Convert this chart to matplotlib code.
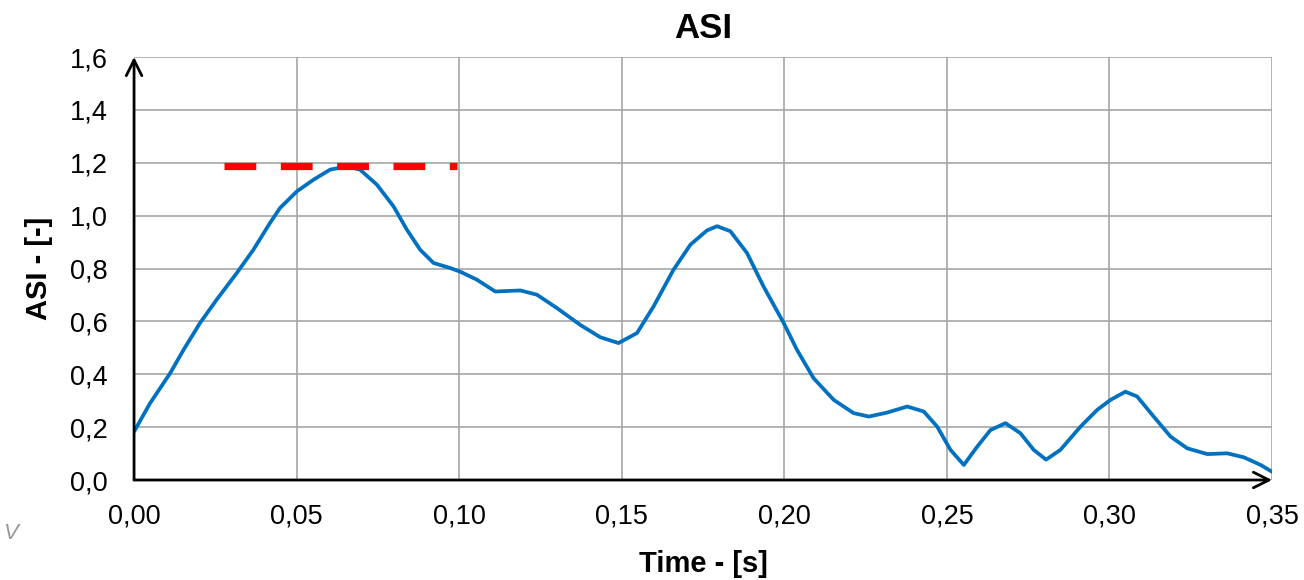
import matplotlib
matplotlib.use("Agg")
import matplotlib.pyplot as plt
from matplotlib.ticker import FixedLocator

plt.rcParams['font.family'] = ['Liberation Sans', 'DejaVu Sans']

# ASI curve
time_s = [0.000, 0.0049, 0.0111, 0.0152, 0.0203, 0.0254, 0.0316, 0.0367, 0.0418, 0.0449,
          0.0501, 0.0552, 0.0603, 0.0654, 0.0695, 0.0747, 0.0798, 0.0839, 0.088, 0.0921,
          0.0972, 0.1003, 0.1054, 0.1111, 0.1188, 0.1239, 0.1301, 0.1372, 0.1434, 0.149,
          0.1547, 0.1598, 0.1659, 0.1711, 0.1762, 0.1793, 0.1834, 0.1885, 0.1936, 0.1998,
          0.2039, 0.209, 0.2152, 0.2213, 0.226, 0.2316, 0.2378, 0.2429, 0.247, 0.2511,
          0.2552, 0.2593, 0.2634, 0.268, 0.2726, 0.2767, 0.2805, 0.2849, 0.2911, 0.2962,
          0.3003, 0.3049, 0.3085, 0.3136, 0.3188, 0.3239, 0.3301, 0.3362, 0.3413, 0.3465,
          0.350]
asi = [0.183, 0.29, 0.404, 0.492, 0.594, 0.682, 0.783, 0.871, 0.972, 1.029,
       1.092, 1.136, 1.174, 1.186, 1.174, 1.117, 1.035, 0.947, 0.871, 0.821,
       0.802, 0.788, 0.758, 0.713, 0.717, 0.701, 0.650, 0.587, 0.540, 0.518,
       0.556, 0.657, 0.795, 0.890, 0.944, 0.960, 0.941, 0.859, 0.732, 0.594,
       0.492, 0.385, 0.303, 0.253, 0.240, 0.255, 0.278, 0.259, 0.202, 0.114,
       0.057, 0.126, 0.189, 0.215, 0.177, 0.114, 0.077, 0.114, 0.202, 0.265,
       0.303, 0.334, 0.316, 0.240, 0.164, 0.120, 0.098, 0.101, 0.086, 0.057,
       0.031]

# peak marker (red dashed)
peak_t = [0.0277, 0.0994]
peak_asi = [1.186, 1.186]

x_ticks = [0.00, 0.05, 0.10, 0.15, 0.20, 0.25, 0.30, 0.35]
y_ticks = [0.0, 0.2, 0.4, 0.6, 0.8, 1.0, 1.2, 1.4, 1.6]

fig = plt.figure(figsize=(13.04, 5.8), dpi=100)
ax = fig.add_axes([0.1028, 0.1724, 0.8727, 0.7293])

ax.plot(time_s, asi, color='#0070C0', lw=2.7, solid_joinstyle='round',
        solid_capstyle='round', zorder=3)
ax.plot(peak_t, peak_asi, color='#FF0000', lw=5.2, dashes=(4.4, 3.4),
        dash_capstyle='butt', zorder=4)

ax.set_xlim(0, 0.35)
ax.set_ylim(0, 1.6)
ax.xaxis.set_major_locator(FixedLocator(x_ticks))
ax.yaxis.set_major_locator(FixedLocator(y_ticks))
ax.set_xticklabels([f"{v:.2f}".replace('.', ',') for v in x_ticks])
ax.set_yticklabels([f"{v:.1f}".replace('.', ',') for v in y_ticks])
ax.tick_params(length=0, labelsize=19.5, colors='black')
ax.tick_params(axis='x', pad=17)
ax.tick_params(axis='y', pad=19)

ax.grid(True, color='#A6A6A6', lw=1.2)
ax.set_axisbelow(True)
for s in ['top', 'right', 'left', 'bottom']:
    ax.spines[s].set_visible(False)

# axes with arrow heads
ax.annotate('', xy=(0, 1.6), xytext=(0, 0), xycoords='data',
            arrowprops=dict(arrowstyle='->', color='black', lw=2,
                            mutation_scale=28, shrinkA=0, shrinkB=0),
            annotation_clip=False, zorder=5)
ax.annotate('', xy=(0.35, 0), xytext=(0, 0), xycoords='data',
            arrowprops=dict(arrowstyle='->', color='black', lw=2,
                            mutation_scale=28, shrinkA=0, shrinkB=0),
            annotation_clip=False, zorder=5)

ax.set_title('ASI', fontsize=25, fontweight='bold', pad=14)
ax.set_xlabel('Time - [s]', fontsize=21, fontweight='bold', va='center')
ax.xaxis.set_label_coords(0.5, -0.198)
ax.set_ylabel('ASI - [-]', fontsize=21, fontweight='bold', labelpad=12)

fig.text(0.002, 0.07, 'V', fontsize=16, color='#999999', style='italic')

fig.savefig('out.png', dpi=100)
